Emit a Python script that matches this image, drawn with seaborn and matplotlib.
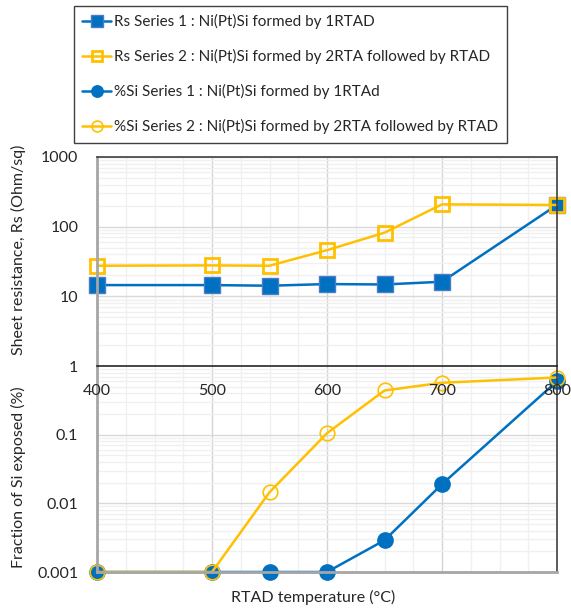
import matplotlib
matplotlib.use("Agg")
import matplotlib.pyplot as plt
import matplotlib.ticker as mticker
import seaborn as sns
import numpy as np
import pandas as pd

# ---------------- data ----------------
temps = [400, 500, 550, 600, 650, 700, 800]
rs_series1 = [14.5, 14.5, 14.2, 15.0, 14.8, 16.2, 205]
rs_series2 = [27.5, 27.8, 27.5, 46, 82, 209, 205]
si_series1 = [0.001, 0.001, 0.001, 0.001, 0.0029, 0.019, 0.6]
si_series2 = [0.001, 0.001, 0.0145, 0.105, 0.44, 0.57, 0.68]

labels = [
    "Rs Series 1 : Ni(Pt)Si formed by 1RTAD",
    "Rs Series 2 : Ni(Pt)Si formed by 2RTA followed by RTAD",
    "%Si Series 1 : Ni(Pt)Si formed by 1RTAd",
    "%Si Series 2 : Ni(Pt)Si formed by 2RTA followed by RTAD",
]
x_ticks = [400, 500, 600, 700, 800]
x_ticklabels = ["400", "500", "600", "700", "800"]
rs_ticks = [1, 10, 100, 1000]
rs_ticklabels = ["1", "10", "100", "1000"]
si_ticks = [0.001, 0.01, 0.1]
si_ticklabels = ["0.001", "0.01", "0.1"]

xlabel = "RTAD temperature (°C)"
ylabel_top = "Sheet resistance, Rs (Ohm/sq)"
ylabel_bot = "Fraction of Si exposed (%)"

BLUE = "#0070C0"
YELLOW = "#FFC000"

sns.set_style("white")
plt.rcParams["font.family"] = ["Lato", "DejaVu Sans"]
plt.rcParams["font.size"] = 11

df = pd.DataFrame({"T": temps, "rs1": rs_series1, "rs2": rs_series2,
                   "si1": si_series1, "si2": si_series2})

W, H = 571, 612
fig = plt.figure(figsize=(W / 100, H / 100), dpi=100)
L, R = 97, 557
ax1 = fig.add_axes([L / W, 1 - 366 / H, (R - L) / W, (366 - 157) / H])
ax2 = fig.add_axes([L / W, 1 - 572 / H, (R - L) / W, (572 - 366) / H])
ax1.set_zorder(3)

# ---------------- series ----------------
sns.lineplot(data=df, x="T", y="rs1", ax=ax1, color=BLUE, lw=1.8,
             marker="s", markersize=11, markerfacecolor=BLUE,
             markeredgecolor="#4A7CC9", markeredgewidth=1,
             clip_on=False, label=labels[0], legend=False)
sns.lineplot(data=df, x="T", y="rs2", ax=ax1, color=YELLOW, lw=1.8,
             marker="s", markersize=10, markerfacecolor="none",
             markeredgecolor=YELLOW, markeredgewidth=2,
             clip_on=False, label=labels[1], legend=False)
sns.lineplot(data=df, x="T", y="si1", ax=ax2, color=BLUE, lw=1.8,
             marker="o", markersize=11, markerfacecolor=BLUE,
             markeredgecolor=BLUE, markeredgewidth=1,
             clip_on=False, label=labels[2], legend=False)
sns.lineplot(data=df, x="T", y="si2", ax=ax2, color=YELLOW, lw=1.8,
             marker="o", markersize=10.5, markerfacecolor="none",
             markeredgecolor=YELLOW, markeredgewidth=1.2,
             clip_on=False, label=labels[3], legend=False)

# ---------------- axes styling ----------------
for ax in (ax1, ax2):
    ax.set_yscale("log")
    ax.set_xlim(400, 800)
    ax.xaxis.set_major_locator(mticker.FixedLocator(x_ticks))
    ax.xaxis.set_minor_locator(mticker.MultipleLocator(25))
    ax.yaxis.set_minor_locator(mticker.LogLocator(base=10, subs=np.arange(2, 10)))
    ax.yaxis.set_minor_formatter(mticker.NullFormatter())
    ax.grid(True, which="minor", color="#F0F0F0", lw=1)
    ax.grid(True, which="major", axis="y", color="#D9D9D9", lw=1)
    ax.grid(True, which="major", axis="x", color="#D4D4D4", lw=1)
    ax.set_axisbelow(True)
    ax.set_xlabel("")
    ax.set_ylabel("")
    for s in ("top", "right"):
        ax.spines[s].set_color("#404040")
        ax.spines[s].set_linewidth(1.2)
    ax.spines["left"].set_color("#A6A6A6")
    ax.spines["left"].set_linewidth(2)
    ax.tick_params(axis="y", which="both", direction="in", color="#404040",
                   width=1, labelsize=11.5, pad=13.5, labelcolor="#262626")
    ax.tick_params(axis="y", which="major", length=0)
    ax.tick_params(axis="y", which="minor", length=3)

ax1.set_ylim(1, 1000)
ax1.set_yticks(rs_ticks)
ax1.set_yticklabels(rs_ticklabels)
ax1.spines["bottom"].set_color("#262626")
ax1.spines["bottom"].set_linewidth(1.2)
ax1.set_xticks(x_ticks)
ax1.set_xticklabels(x_ticklabels)
ax1.tick_params(axis="x", which="both", direction="in", length=5,
                color="#262626", width=1, pad=13, labelsize=11.5,
                labelcolor="#262626")

ax2.set_ylim(0.001, 1)
ax2.set_yticks(si_ticks)
ax2.set_yticklabels(si_ticklabels)
ax2.spines["top"].set_visible(False)
ax2.spines["bottom"].set_color("#A6A6A6")
ax2.spines["bottom"].set_linewidth(2)
ax2.tick_params(axis="x", which="both", length=0, labelbottom=False)

ax1.set_ylabel(ylabel_top, fontsize=11.5, color="#262626")
ax1.yaxis.set_label_coords(-0.155, 0.555)
ax2.set_ylabel(ylabel_bot, fontsize=11.5, color="#262626")
ax2.yaxis.set_label_coords(-0.155, 0.46)
ax2.set_xlabel(xlabel, fontsize=11.5, color="#262626")
ax2.xaxis.set_label_coords((313 - L) / (R - L), -0.085)

# ---------------- legend ----------------
hs, ls = [], []
for ax in (ax1, ax2):
    h, l = ax.get_legend_handles_labels()
    hs += h
    ls += l
leg = fig.legend(hs, ls, loc="upper left", bbox_to_anchor=(74 / W, 1 - 6 / H),
                 borderaxespad=0, frameon=True, fancybox=False, framealpha=1,
                 edgecolor="#404040", fontsize=11, labelspacing=1.3,
                 handlelength=1.9, handletextpad=0.2, borderpad=0.55,
                 markerscale=0.75)
leg.get_frame().set_linewidth(1)
for t in leg.get_texts():
    t.set_color("#262626")

fig.savefig("out.png", dpi=100)
